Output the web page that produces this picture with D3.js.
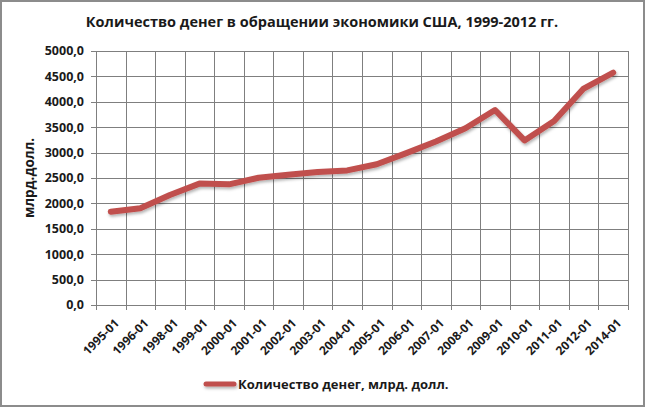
<!DOCTYPE html>
<html><head><meta charset="utf-8">
<script src="https://cdn.jsdelivr.net/npm/d3@7"></script>
<style>body{margin:0;background:#fff}svg{display:block}</style>
</head><body>
<script>
const categories = ["1995-01","1996-01","1998-01","1999-01","2000-01","2001-01","2002-01","2003-01","2004-01","2005-01","2006-01","2007-01","2008-01","2009-01","2010-01","2011-01","2012-01","2014-01"];
const values = [1837, 1905, 2165, 2390, 2375, 2505, 2565, 2620, 2650, 2770, 2990, 3220, 3480, 3839, 3240, 3620, 4260, 4575];
const yTicks = [0,500,1000,1500,2000,2500,3000,3500,4000,4500,5000];
const title = "Количество денег в обращении экономики США, 1999-2012 гг.";
const yTitle = "млрд.долл.";
const legendLabel = "Количество денег, млрд. долл.";

const W = 646, H = 408;
const m = {left: 96, right: 18, top: 51, bottom: 103};
const font = "Open Sans, Noto Sans, sans-serif";
const svg = d3.select("body").append("svg").attr("width", W).attr("height", H);

svg.append("rect").attr("x",1).attr("y",1).attr("width",643).attr("height",405)
  .attr("fill","#fff").attr("stroke","#8c8c8c").attr("stroke-width",2);

const x = d3.scaleBand().domain(categories).range([m.left, W - m.right]).padding(0);
const y = d3.scaleLinear().domain([0,5000]).range([H - m.bottom, m.top]);

// horizontal grid
const grid = svg.append("g").attr("stroke","#7f7f7f").attr("stroke-width",1).attr("shape-rendering","crispEdges");
grid.selectAll("line.h").data(yTicks).join("line")
  .attr("x1", m.left - 5).attr("x2", W - m.right)
  .attr("y1", d => Math.round(y(d)) + 0.5).attr("y2", d => Math.round(y(d)) + 0.5);
// vertical grid at category boundaries
const bounds = categories.map(c => x(c)).concat([x(categories[categories.length-1]) + x.bandwidth()]);
grid.selectAll("line.v").data(bounds).join("line")
  .attr("x1", d => Math.round(d) + 0.5).attr("x2", d => Math.round(d) + 0.5)
  .attr("y1", m.top).attr("y2", H - m.bottom + 5);

// y labels
const fmt = d => d3.format(".1f")(d).replace(".", ",");
svg.append("g").selectAll("text").data(yTicks).join("text")
  .attr("x", m.left - 12).attr("y", d => y(d)).attr("dy","0.35em")
  .attr("text-anchor","end").attr("font-family",font).attr("font-weight","bold")
  .attr("font-size","12.5px").attr("fill","#1a1a1a").text(fmt);

// x labels
svg.append("g").selectAll("text").data(categories).join("text")
  .attr("transform", d => `translate(${x(d) + x.bandwidth()/2 + 6},${H - m.bottom + 16}) rotate(-45)`)
  .attr("text-anchor","end").attr("dy","0.35em")
  .attr("font-family",font).attr("font-weight","bold").attr("font-size","12px")
  .attr("fill","#1a1a1a").text(d => d);

// y title
svg.append("text").attr("transform", `translate(34,178) rotate(-90)`)
  .attr("text-anchor","middle").attr("font-family",font).attr("font-weight","bold")
  .attr("font-size","13.5px").attr("fill","#1a1a1a").text(yTitle);

// title
svg.append("text").attr("x", 322).attr("y", 27).attr("text-anchor","middle")
  .attr("font-family",font).attr("font-weight","bold").attr("font-size","14.5px")
  .attr("fill","#1a1a1a").text(title);

// shadow filter
const defs = svg.append("defs");
const f = defs.append("filter").attr("id","sh").attr("filterUnits","userSpaceOnUse")
  .attr("x",0).attr("y",0).attr("width",W).attr("height",H);
f.append("feDropShadow").attr("dx",1).attr("dy",2).attr("stdDeviation",1.5).attr("flood-color","#000").attr("flood-opacity",0.3);

const line = d3.line().x((d,i) => x(categories[i]) + x.bandwidth()/2).y(d => y(d));
svg.append("path").datum(values).attr("d", line)
  .attr("fill","none").attr("stroke","#c0504d").attr("stroke-width",6)
  .attr("stroke-linejoin","round").attr("stroke-linecap","round").attr("filter","url(#sh)");

// legend
svg.append("line").attr("x1",206).attr("x2",234).attr("y1",384).attr("y2",384)
  .attr("stroke","#c0504d").attr("stroke-width",5).attr("stroke-linecap","round").attr("filter","url(#sh)");
svg.append("text").attr("x",238).attr("y",384).attr("dy","0.35em")
  .attr("font-family",font).attr("font-weight","bold").attr("font-size","13px")
  .attr("fill","#1a1a1a").text(legendLabel);
</script>
</body></html>
